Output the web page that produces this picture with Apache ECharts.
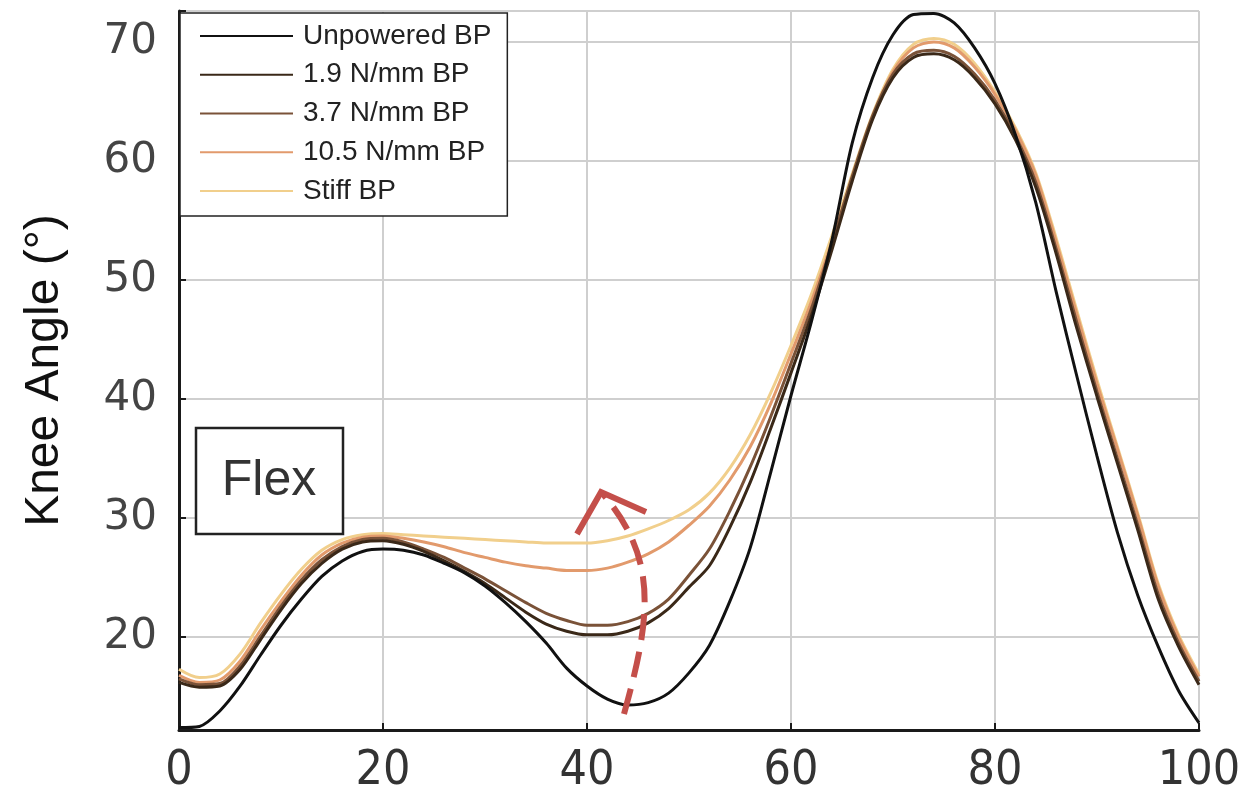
<!DOCTYPE html>
<html>
<head>
<meta charset="utf-8">
<script src="https://cdn.jsdelivr.net/npm/echarts@6/dist/echarts.min.js"></script>
<style>
html,body{margin:0;padding:0;background:#fff;}
#chart{width:1243px;height:804px;}
</style>
</head>
<body>
<div id="chart"></div>
<script>
// Gait cycle (%)
var gaitPct = [0,2,4,6,8,10,12,14,16,18,20,22,24,26,28,30,32,34,36,38,40,42,44,46,48,50,52,54,56,58,60,62,64,66,68,70,72,74,76,78,80,82,84,86,88,90,92,94,96,98,100];
var unpoweredBP = [12.4,12.5,13.8,15.9,18.5,21.0,23.2,25.1,26.4,27.2,27.4,27.3,26.9,26.2,25.4,24.3,22.9,21.3,19.5,17.4,15.9,14.8,14.3,14.5,15.3,17.0,19.3,23.0,27.5,33.8,40.3,46.5,53.3,61.5,67.0,70.6,72.3,72.4,71.6,69.5,66.5,62.2,56.5,49.0,42.0,35.2,28.8,23.5,19.2,15.5,12.8];
var bp19 = [16.2,15.8,15.9,17.3,19.8,22.3,24.5,26.2,27.4,28.0,28.1,27.8,27.2,26.4,25.5,24.5,23.3,22.1,21.1,20.5,20.2,20.2,20.5,21.2,22.4,24.2,26.0,29.2,33.0,37.5,42.2,47.0,52.5,58.3,63.5,67.0,68.7,69.0,68.5,67.0,64.8,61.8,57.8,52.2,46.0,40.2,34.6,29.0,23.2,19.2,16.0];
var bp37 = [16.5,16.0,16.1,17.6,20.1,22.6,24.8,26.5,27.6,28.2,28.3,28.0,27.4,26.7,25.8,24.9,23.9,22.9,22.0,21.4,21.0,21.0,21.3,22.0,23.2,25.2,27.4,30.6,34.3,38.5,43.0,47.6,53.0,58.7,63.8,67.3,69.0,69.3,68.8,67.3,65.1,62.1,58.2,52.6,46.5,40.6,35.0,29.4,23.6,19.5,16.3];
var bp105 = [16.8,16.2,16.4,18.0,20.6,23.0,25.2,26.9,27.9,28.4,28.5,28.3,28.0,27.6,27.1,26.7,26.3,26.0,25.8,25.6,25.6,25.8,26.3,27.0,28.0,29.4,31.0,33.2,36.0,39.6,43.8,48.2,53.2,58.6,63.7,67.5,69.5,70.0,69.5,67.9,65.6,62.6,58.8,53.2,47.2,41.3,35.8,30.2,24.3,20.0,16.7];
var stiffBP = [17.3,16.6,16.9,18.6,21.2,23.6,25.7,27.3,28.2,28.6,28.7,28.6,28.5,28.4,28.3,28.2,28.1,28.0,27.9,27.9,27.9,28.1,28.5,29.1,29.8,30.7,32.1,34.2,37.0,40.5,44.5,48.8,53.7,58.9,63.9,67.7,69.8,70.3,69.8,68.2,65.8,62.8,59.0,53.5,47.5,41.6,36.0,30.4,24.5,20.2,16.9];

var seriesNames = ['Unpowered BP','1.9 N/mm BP','3.7 N/mm BP','10.5 N/mm BP','Stiff BP'];
var seriesColors = ['#111111','#3a2818','#7a5238','#e29a6c','#f1cf8c'];
var seriesData = [unpoweredBP, bp19, bp37, bp105, stiffBP];
var xTicks = [0,20,40,60,80,100];
var yTicks = [20,30,40,50,60,70];

function pairs(ys){ return gaitPct.map(function(x,i){ return [x, ys[i]]; }); }

var chart = echarts.init(document.getElementById('chart'), null, {renderer:'canvas'});
var series = seriesData.map(function(d,i){
  return {
    name: seriesNames[i], type:'line', data: pairs(d), symbol:'none', smooth:0.3,
    lineStyle:{color:seriesColors[i], width:3}, itemStyle:{color:seriesColors[i]},
    z: 10 - i, animation:false
  };
});

chart.setOption({
  animation:false,
  backgroundColor:'#ffffff',
  grid:{left:179, right:44, top:11, bottom:74, outerBoundsMode:'none', containLabel:false},
  legend:{
    left:180, top:13, orient:'vertical',
    data: seriesNames,
    icon:'rect',
    itemWidth:93, itemHeight:2, itemGap:10.75,
    padding:[9,16,11,20],
    borderColor:'#222', borderWidth:1.5, backgroundColor:'#fff',
    textStyle:{fontFamily:'Liberation Sans, Arial, sans-serif', fontSize:28, color:'#222', lineHeight:28, padding:[0,0,0,5]},
    selectedMode:false
  },
  xAxis:{
    type:'value', min:0, max:100, interval:20,
    axisLine:{show:true, onZero:false, lineStyle:{color:'#1a1a1a', width:3}},
    axisTick:{show:true, inside:true, length:7, lineStyle:{color:'#1a1a1a', width:2}},
    axisLabel:{margin:18, fontFamily:'DejaVu Sans Condensed, Liberation Sans Narrow, Arial, sans-serif', fontSize:48, color:'#333',
      formatter:function(v){ return xTicks.indexOf(v) >= 0 ? String(v) : ''; }},
    splitLine:{show:true, lineStyle:{color:'#cfcfcf', width:2}}
  },
  yAxis:{
    type:'value', min:12.2, max:72.6, splitNumber:6,
    name:'Knee Angle (°)', nameLocation:'middle', nameGap:110, nameRotate:90,
    nameTextStyle:{fontFamily:'Liberation Sans, Arial, sans-serif', fontSize:48, color:'#111'},
    axisLine:{show:true, lineStyle:{color:'#1a1a1a', width:3}},
    axisTick:{show:true, inside:true, length:7, lineStyle:{color:'#1a1a1a', width:2}},
    axisLabel:{margin:22, fontFamily:'DejaVu Sans, sans-serif', fontSize:42, color:'#444',
      formatter:function(v){ return yTicks.indexOf(Math.round(v*1000)/1000) >= 0 ? String(v) : ''; }},
    splitLine:{show:true, lineStyle:{color:'#cfcfcf', width:2}}
  },
  series: series,
  graphic:[
    {type:'rect', shape:{x:196, y:428, width:147, height:106}, style:{fill:'#fff', stroke:'#222', lineWidth:2.5}, z:100},
    {type:'text', x:269, y:481, style:{text:'Flex', fontFamily:'Liberation Sans, Arial, sans-serif', fontSize:50, fill:'#333', textAlign:'center', textVerticalAlign:'middle'}, z:101},
    {type:'bezierCurve', shape:{x1:624, y1:714, cpx1:650, cpy1:620, cpx2:660, cpy2:560, x2:602, y2:493}, style:{fill:null, stroke:'#c44f4a', lineWidth:6, lineDash:[26,12]}, z:100},
    {type:'polyline', shape:{points:[[577,534],[601,492],[646,512]]}, style:{fill:null, stroke:'#c44f4a', lineWidth:6}, z:100}
  ]
});
</script>
</body>
</html>
